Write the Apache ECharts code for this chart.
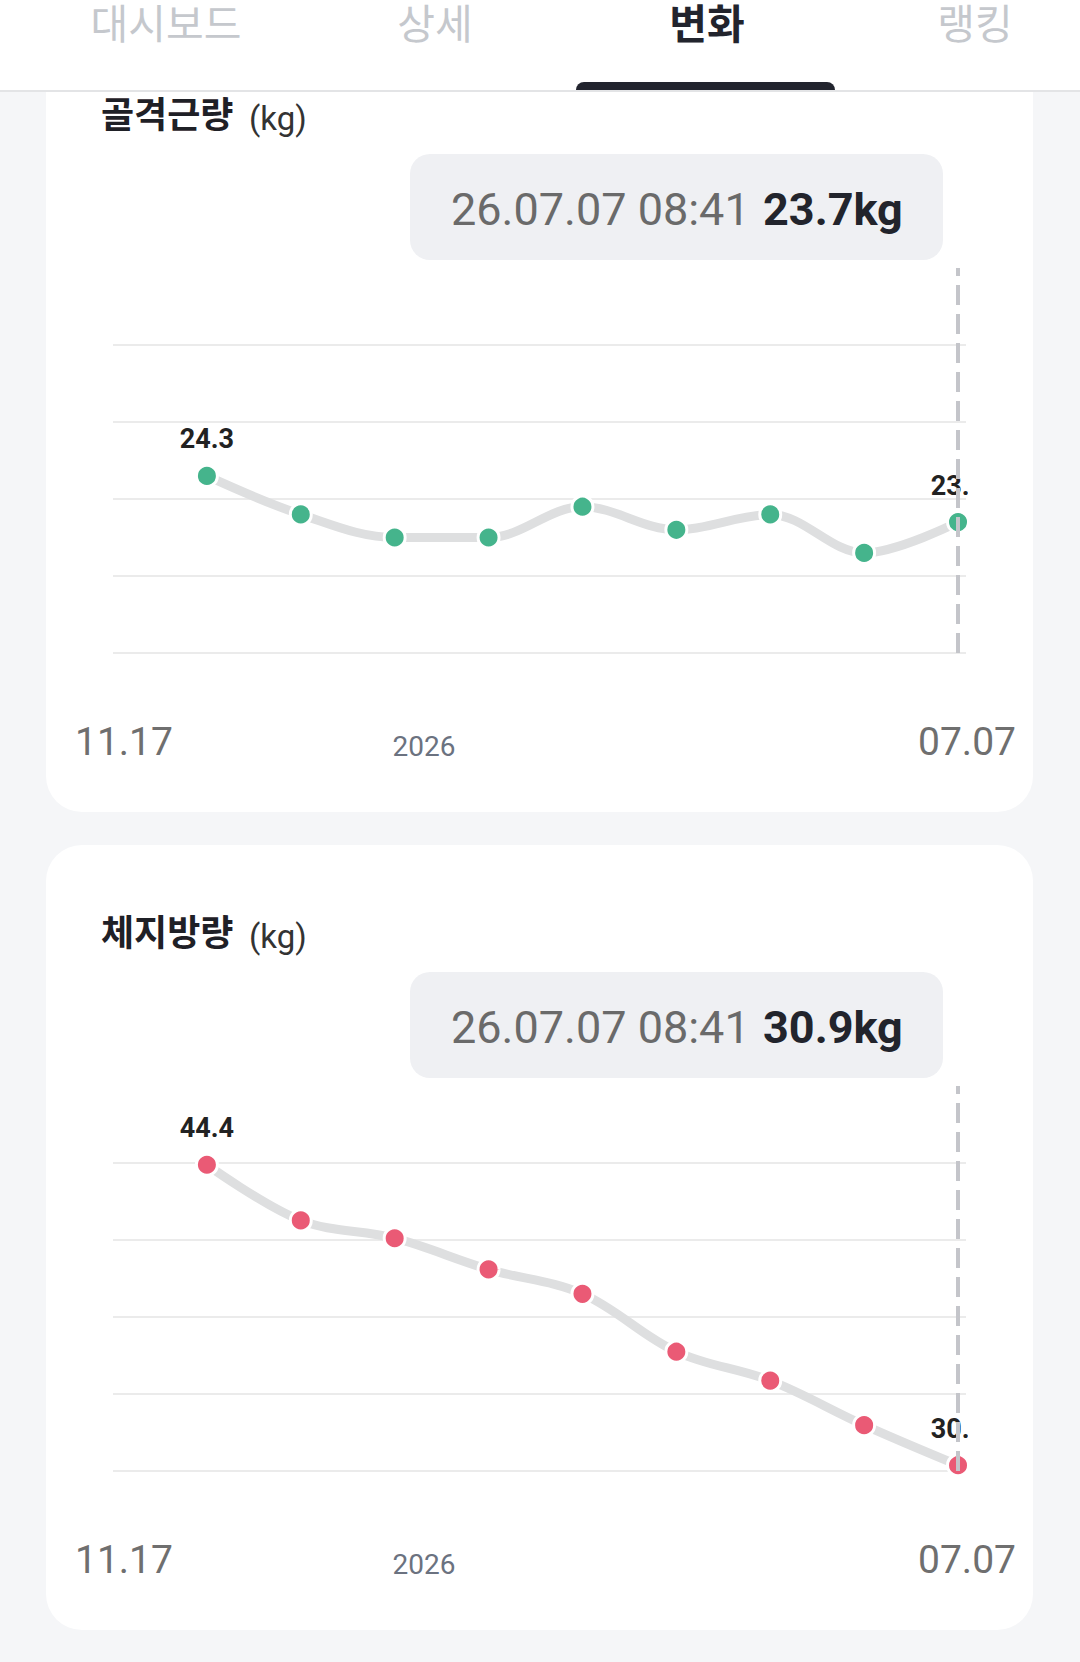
<!DOCTYPE html>
<html>
<head>
<meta charset="utf-8">
<script src="https://cdn.jsdelivr.net/npm/echarts@6/dist/echarts.min.js"></script>
<style>
html, body { margin: 0; padding: 0; width: 1080px; height: 1662px; overflow: hidden; background: #f5f6f8; font-family: Roboto, "Noto Sans CJK KR", sans-serif; }
.tabs { position: absolute; left: 0; top: 0; width: 1080px; height: 90px; background: #fff; border-bottom: 2px solid #e3e4e6; z-index: 10; }
.tab { position: absolute; top: 1px; width: 240px; margin-left: -120px; text-align: center; font-family: "Noto Sans CJK KR", sans-serif; font-size: 41px; line-height: 41px; color: #c5c8cd; }
.tab.on { color: #22242d; font-weight: bold; }
.bar { position: absolute; left: 576px; top: 82px; width: 259px; height: 8px; background: #22242e; border-radius: 8px 8px 0 0; }
.card { position: absolute; left: 46px; width: 987px; height: 785px; background: #fff; border-radius: 36px; }
.chart { position: absolute; left: 0; width: 968px; height: 680px; overflow: hidden; }
.xl { position: absolute; font-family: Roboto, sans-serif; line-height: 1; white-space: nowrap; }
.xl.end { font-size: 39px; color: #6f6f6f; top: 696px; }
.xl.yr { font-size: 28px; color: #6b7280; top: 706px; width: 100px; margin-left: -50px; text-align: center; }
</style>
</head>
<body>
<div class="tabs">
  <div class="tab" style="left:166px">대시보드</div>
  <div class="tab" style="left:435px">상세</div>
  <div class="tab on" style="left:707px">변화</div>
  <div class="tab" style="left:975px">랭킹</div>
  <div class="bar"></div>
</div>

<div class="card" style="top:27px">
  <div class="xl end" style="left:29px" id="a1"></div>
  <div class="xl yr" style="left:378px" id="b1"></div>
  <div class="xl end" style="right:17px" id="c1"></div>
</div>
<div class="card" style="top:845px">
  <div class="xl end" style="left:29px" id="a2"></div>
  <div class="xl yr" style="left:378px" id="b2"></div>
  <div class="xl end" style="right:17px" id="c2"></div>
</div>

<div class="chart" id="muscleChart" style="top:27px"></div>
<div class="chart" id="fatChart" style="top:845px"></div>

<script>
// 측정값 (9회)
var muscleValues = [24.3, 23.8, 23.5, 23.5, 23.9, 23.6, 23.8, 23.3, 23.7];
var fatValues = [44.4, 41.9, 41.1, 39.7, 38.6, 36.0, 34.7, 32.7, 30.9];
var axisLabels = ['11.17', '2026', '07.07'];
var lastTime = '26.07.07 08:41';

function fillAxis(n) {
    document.getElementById('a' + n).textContent = axisLabels[0];
    document.getElementById('b' + n).textContent = axisLabels[1];
    document.getElementById('c' + n).textContent = axisLabels[2];
}

function makeOption(cfg) {
    var last = cfg.values.length - 1;
    var data = cfg.values.map(function (v, i) {
        return { value: [i, v], label: { show: i === 0 || i === last } };
    });
    return {
        animation: false,
        graphic: [
            { type: 'text', left: 101, top: 67, style: { text: cfg.title, font: 'bold 36px "Noto Sans CJK KR"', fill: '#1f2026' } },
            { type: 'text', x: 249, y: 91, style: { text: '(kg)', font: '33px Roboto', fill: '#333', verticalAlign: 'middle' } },
            { type: 'rect', shape: { x: 410, y: 127, width: 533, height: 106, r: 20 }, style: { fill: '#eff0f3' } },
            { type: 'text', x: 451, y: 182, style: { text: lastTime, font: '45px Roboto', fill: '#6a6a6a', verticalAlign: 'middle' } },
            { type: 'text', x: 763, y: 182, style: { text: cfg.values[last].toFixed(1) + 'kg', font: 'bold 45px Roboto', fill: '#22242c', verticalAlign: 'middle' } }
        ],
        grid: { left: 113, right: 2, top: 241, height: 385 },
        xAxis: { type: 'value', min: -1, max: 8.085, show: false },
        yAxis: [
            {
                type: 'value', min: 0, max: 5, interval: 1,
                axisLine: { show: false }, axisTick: { show: false }, axisLabel: { show: false },
                splitLine: { show: true, showMaxLine: false, lineStyle: { color: '#ebebeb', width: 2 } }
            },
            { type: 'value', min: cfg.min, max: cfg.max, show: false, splitLine: { show: false } }
        ],
        series: [{
            // 최근 측정 지점 점선 (선/점 아래에 그림)
            type: 'line',
            yAxisIndex: 1,
            z: 1,
            data: [],
            markLine: {
                silent: true,
                symbol: ['none', 'none'],
                label: { show: false },
                lineStyle: { color: '#c4c5ca', width: 4, type: [20, 9] },
                data: [{ xAxis: last }]
            }
        }, {
            type: 'line',
            yAxisIndex: 1,
            z: 3,
            data: data,
            smooth: 0.35,
            symbol: 'circle',
            symbolSize: 21,
            itemStyle: { color: cfg.color, borderColor: '#fff', borderWidth: 3 },
            lineStyle: { color: '#dedfe0', width: 9 },
            label: {
                position: 'top', distance: 11,
                fontFamily: 'Roboto', fontSize: 27, fontWeight: 'bold', color: '#222',
                formatter: function (p) { return p.value[1].toFixed(1); }
            }
        }]
    };
}

var muscleChart = echarts.init(document.getElementById('muscleChart'), null, { renderer: 'svg' });
muscleChart.setOption(makeOption({ title: '골격근량', values: muscleValues, color: '#45b48c', min: 22, max: 27 }));
fillAxis(1);

var fatChart = echarts.init(document.getElementById('fatChart'), null, { renderer: 'svg' });
fatChart.setOption(makeOption({ title: '체지방량', values: fatValues, color: '#ea5a75', min: 30.64, max: 47.94 }));
fillAxis(2);
</script>
</body>
</html>
